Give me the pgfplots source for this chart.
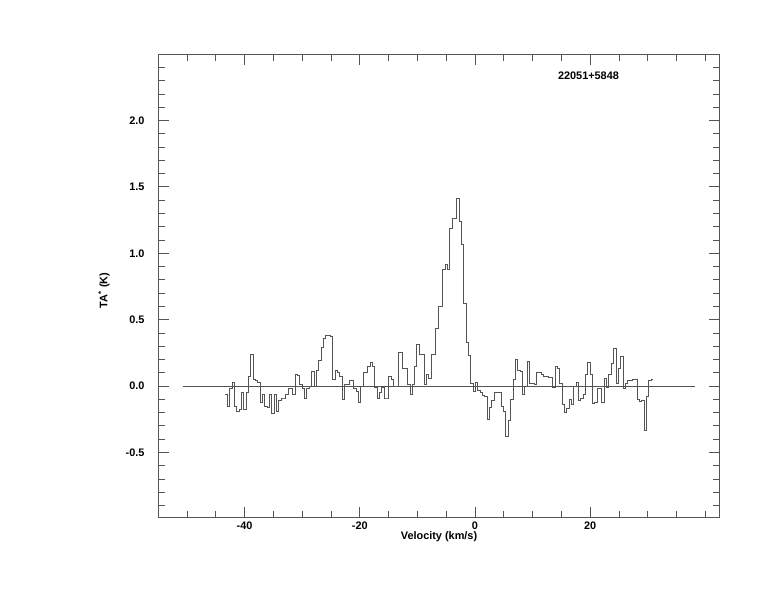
\documentclass[border=0pt]{standalone}
\usepackage{fontspec}
\setmainfont{Liberation Sans}
\usepackage{pgfplots}
\pgfplotsset{compat=1.18}
\definecolor{ln}{gray}{0.33}
\newcommand{\lab}{\fontsize{10.9bp}{13bp}\selectfont\bfseries}
\begin{document}
\begin{tikzpicture}[x=1bp,y=1bp]
\useasboundingbox (-158.2,-94.5) rectangle (615.8,517.5);
\begin{axis}[
  scale only axis, width=561.6bp, height=463.4bp,
  at={(0,0)}, anchor=south west,
  xmin=-55, xmax=42.5, ymin=-0.99, ymax=2.5,
  xtick={-40,-20,0,20}, minor xtick={-50,-45,...,40},
  ytick={-0.5,0,0.5,1,1.5,2}, minor ytick={-0.9,-0.8,...,2.45},
  major tick length=10.5bp, minor tick length=6.5bp,
  tick align=inside,
  every tick/.style={ln, line width=0.8bp},
  axis line style={ln, line width=0.8bp},
  /pgf/number format/assume math mode=true,
  every tick label/.append style={font=\lab},
  yticklabel style={/pgf/number format/.cd, fixed, fixed zerofill, precision=1, /tikz/.cd, inner sep=0pt, xshift=-13.5bp},
  xticklabel style={inner sep=0pt, yshift=-4bp},
  xlabel={Velocity (km/s)},
  ylabel={TA\textsuperscript{*} (K)},
  xlabel style={font=\lab, at={(axis description cs:0.5,-0.0483)}, anchor=base},
  ylabel style={font=\lab, at={(axis description cs:-0.0965,0.49)}, anchor=center},
]
\addplot[ln, line width=0.8bp] coordinates {(-50.7,0) (38.2,0)};
\addplot[ln, line width=0.9bp, const plot mark left] coordinates {
(-43.40,-0.065) (-42.99,-0.15) (-42.59,-0.02) (-42.18,0.03) (-41.77,-0.15)
(-41.37,-0.19) (-40.96,-0.18) (-40.56,-0.045) (-40.15,-0.18) (-39.74,-0.045)
(-39.34,0.07) (-38.93,0.24) (-38.52,0.05) (-38.12,0.04) (-37.71,0.03)
(-37.30,-0.12) (-36.90,-0.06) (-36.49,-0.15) (-36.08,-0.16) (-35.68,-0.06)
(-35.27,-0.21) (-34.87,-0.06) (-34.46,-0.19) (-34.05,-0.11) (-33.65,-0.09)
(-33.24,-0.09) (-32.83,-0.06) (-32.43,-0.02) (-32.02,-0.02) (-31.61,-0.065)
(-31.21,0.09) (-30.80,0.08) (-30.40,0.01) (-29.99,-0.02) (-29.58,-0.09)
(-29.18,-0.02) (-28.77,0.0) (-28.36,0.11) (-27.96,0.0) (-27.55,0.12)
(-27.14,0.19) (-26.74,0.29) (-26.33,0.36) (-25.92,0.38) (-25.52,0.38)
(-25.11,0.37) (-24.71,0.05) (-24.30,0.12) (-23.89,0.10) (-23.49,0.07)
(-23.08,-0.10) (-22.67,0.015) (-22.27,0.01) (-21.86,0.04) (-21.45,0.045)
(-21.05,-0.02) (-20.64,-0.04) (-20.24,-0.12) (-19.83,0.0) (-19.42,0.10)
(-19.02,0.10) (-18.61,0.15) (-18.20,0.18) (-17.80,0.15) (-17.39,-0.01)
(-16.98,-0.09) (-16.58,-0.05) (-16.17,-0.01) (-15.76,-0.09) (-15.36,-0.09)
(-14.95,0.07) (-14.55,0.05) (-14.14,0.0) (-13.73,0.0) (-13.33,0.25)
(-12.92,0.25) (-12.51,0.13) (-12.11,0.13) (-11.70,0.01) (-11.29,-0.06)
(-10.89,0.01) (-10.48,0.15) (-10.08,0.31) (-9.67,0.24) (-9.26,0.24)
(-8.86,0.01) (-8.45,0.085) (-8.04,0.06) (-7.64,0.24) (-7.23,0.24)
(-6.82,0.43) (-6.42,0.60) (-6.01,0.60) (-5.60,0.88) (-5.20,0.915)
(-4.79,0.88) (-4.39,1.19) (-3.98,1.26) (-3.57,1.26) (-3.17,1.41)
(-2.76,1.24) (-2.35,1.07) (-1.95,0.62) (-1.54,0.33) (-1.13,0.23)
(-0.73,0.02) (-0.32,-0.04) (0.08,0.025) (0.49,-0.03) (0.90,-0.05)
(1.30,-0.07) (1.71,-0.08) (2.12,-0.25) (2.52,-0.16) (2.93,-0.11)
(3.34,-0.05) (3.74,-0.045) (4.15,-0.045) (4.56,-0.15) (4.96,-0.19)
(5.37,-0.38) (5.77,-0.26) (6.18,-0.10) (6.59,0.05) (6.99,0.20)
(7.40,0.12) (7.81,0.11) (8.21,-0.065) (8.62,0.0) (9.03,0.185)
(9.43,0.02) (9.84,0.02) (10.24,0.01) (10.65,0.10) (11.06,0.10)
(11.46,0.085) (11.87,0.07) (12.28,0.07) (12.68,0.065) (13.09,0.065)
(13.50,-0.01) (13.90,0.15) (14.31,0.135) (14.72,0.02) (15.12,-0.14)
(15.53,-0.20) (15.93,-0.17) (16.34,-0.10) (16.75,-0.14) (17.15,0.0)
(17.56,0.03) (17.97,-0.11) (18.37,-0.09) (18.78,-0.065) (19.19,0.085)
(19.59,0.18) (20.00,0.085) (20.40,-0.13) (20.81,-0.125) (21.22,-0.02)
(21.62,-0.02) (22.03,-0.12) (22.44,0.06) (22.84,-0.01) (23.25,0.09)
(23.66,0.17) (24.06,0.28) (24.47,0.02) (24.88,0.13) (25.28,0.22)
(25.69,-0.02) (26.09,0.02) (26.50,0.04) (26.91,0.045) (27.31,0.05)
(27.72,0.05) (28.13,-0.10) (28.53,-0.115) (28.94,-0.11) (29.35,-0.335)
(29.75,-0.08) (30.16,0.04) (30.56,0.05) (30.97,0.05)
};
\node[font=\lab, anchor=center] at (axis cs:19.7,2.34) {22051+5848};
\end{axis}
\end{tikzpicture}
\end{document}
